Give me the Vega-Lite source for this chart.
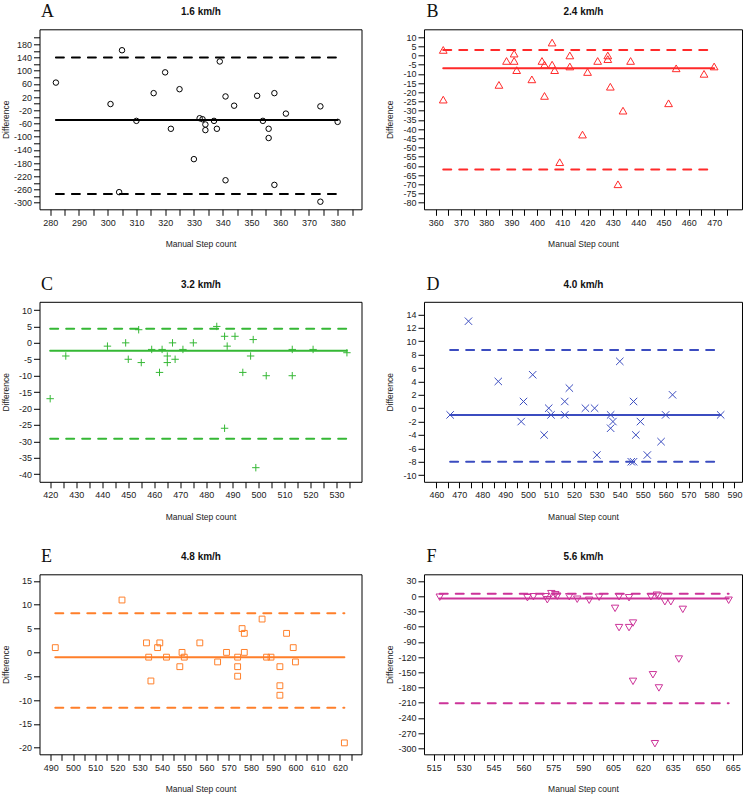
{
  "$schema": "https://vega.github.io/schema/vega-lite/v6.json",
  "background": "white",
  "padding": {"left": 0.5, "top": 1.3, "right": 0, "bottom": 0},
  "config": {
    "font": "Liberation Sans",
    "view": {"stroke": "#000", "strokeWidth": 1},
    "axis": {"domain": false, "grid": false, "tickColor": "#000", "tickSize": 6, "tickWidth": 1, "labelFont": "Liberation Sans", "labelFontSize": 9, "labelColor": "#222", "titleFont": "Liberation Sans", "titleFontSize": 8.5, "titleFontWeight": "normal", "titleColor": "#222", "labelOverlap": false, "labelFlush": false, "labelBound": false},
    "axisX": {"labelPadding": 3, "labelAngle": 0},
    "axisY": {"labelPadding": 2}
  },
  "concat": [
    {
      "width": 322, "height": 180,
      "layer": [
        {
          "data": {"values": [
            {"m":282,"d":64},{"m":301,"d":-1},{"m":305,"d":162},{"m":304,"d":-268},{"m":310,"d":-52},{"m":316,"d":32},{"m":320,"d":95},{"m":322,"d":-76},{"m":325,"d":44},{"m":330,"d":-168},{"m":332,"d":-44},{"m":333,"d":-47},{"m":334,"d":-63},{"m":334,"d":-80},{"m":337,"d":-52},{"m":338,"d":-76},{"m":339,"d":128},{"m":341,"d":22},{"m":341,"d":-232},{"m":344,"d":-6},{"m":352,"d":24},{"m":354,"d":-52},{"m":356,"d":-76},{"m":356,"d":-104},{"m":358,"d":32},{"m":358,"d":-246},{"m":362,"d":-30},{"m":374,"d":-8},{"m":374,"d":-297},{"m":380,"d":-55}
          ]},
          "mark": {"type": "point", "shape": "circle", "filled": false, "size": 30, "strokeWidth": 1, "stroke": "#000", "opacity": 1},
          "encoding": {
            "x": {"field": "m", "type": "quantitative", "scale": {"domain": [276.3, 388.3], "nice": false, "zero": false},
              "axis": {"orient": "bottom", "values": [280,285,290,295,300,305,310,315,320,325,330,335,340,345,350,355,360,365,370,375,380,385], "labelExpr": "datum.value % 10 == 0 ? '' + datum.value : ''", "title": "Manual Step count", "titleX": 161, "titleY": 34.5, "titleBaseline": "middle", "titleAlign": "center"}},
            "y": {"field": "d", "type": "quantitative", "scale": {"domain": [-320, 225.5], "nice": false, "zero": false},
              "axis": {"orient": "left", "values": [-300,-280,-260,-240,-220,-200,-180,-160,-140,-120,-100,-80,-60,-40,-20,0,20,40,60,80,100,120,140,160,180,200], "labelExpr": "(datum.value - 20) % 40 == 0 ? '' + datum.value : ''", "title": "Difference", "titleX": -34.5, "titleY": 90, "titleBaseline": "middle", "titleAlign": "center"}}
          }
        },
        {
          "data": {"values": [
            {"x1":282,"x2":380,"d":-49,"k":"mean"},{"x1":282,"x2":380,"d":140,"k":"loa"},{"x1":282,"x2":380,"d":-274,"k":"loa"}
          ]},
          "mark": {"type": "rule", "strokeWidth": 2, "color": "#000", "strokeCap": "round"},
          "encoding": {
            "x": {"field": "x1", "type": "quantitative", "scale": {"domain": [276.3, 388.3], "nice": false, "zero": false},
              "axis": {"orient": "top", "title": "1.6 km/h", "labels": false, "ticks": false, "domain": false, "titleX": 161, "titleY": -17.5, "titleBaseline": "middle", "titleAlign": "center", "titleFontWeight": "bold", "titleFontSize": 10, "titleColor": "#111"}},
            "x2": {"field": "x2"},
            "y": {"field": "d", "type": "quantitative", "scale": {"domain": [-320, 225.5], "nice": false, "zero": false},
              "axis": {"orient": "right", "title": "A", "labels": false, "ticks": false, "domain": false, "titleX": -321, "titleY": -12.6, "titleAngle": 0, "titleAlign": "left", "titleBaseline": "alphabetic", "titleFont": "Liberation Serif", "titleFontSize": 18, "titleFontWeight": "normal", "titleColor": "#111"}},
            "strokeDash": {"field": "k", "type": "nominal", "scale": {"domain": ["mean", "loa"], "range": [[1, 0], [8, 8]]}, "legend": null}
          }
        }
      ]
    },
    {
      "width": 318, "height": 180,
      "layer": [
        {
          "data": {"values": [
            {"m":363,"d":3},{"m":363,"d":-24},{"m":385,"d":-16},{"m":388,"d":-3},{"m":391,"d":1},{"m":391,"d":-3},{"m":392,"d":-8},{"m":398,"d":-13},{"m":402,"d":-3},{"m":403,"d":-22},{"m":403,"d":-5},{"m":406,"d":7},{"m":406,"d":-5},{"m":407,"d":-8},{"m":409,"d":-58},{"m":413,"d":0},{"m":413,"d":-6},{"m":418,"d":-43},{"m":420,"d":-9},{"m":424,"d":-3},{"m":428,"d":0},{"m":428,"d":-2},{"m":429,"d":-17},{"m":432,"d":-70},{"m":434,"d":-30},{"m":437,"d":-3},{"m":452,"d":-26},{"m":455,"d":-7},{"m":466,"d":-10},{"m":470,"d":-6}
          ]},
          "mark": {"type": "point", "shape": "triangle-up", "filled": false, "size": 60, "strokeWidth": 1, "stroke": "#FF2A2A", "opacity": 1},
          "encoding": {
            "x": {"field": "m", "type": "quantitative", "scale": {"domain": [355.4, 481], "nice": false, "zero": false},
              "axis": {"orient": "bottom", "values": [360,365,370,375,380,385,390,395,400,405,410,415,420,425,430,435,440,445,450,455,460,465,470,475], "labelExpr": "datum.value % 10 == 0 ? '' + datum.value : ''", "title": "Manual Step count", "titleX": 159, "titleY": 34.5, "titleBaseline": "middle", "titleAlign": "center"}},
            "y": {"field": "d", "type": "quantitative", "scale": {"domain": [-83.6, 14.2], "nice": false, "zero": false},
              "axis": {"orient": "left", "values": [-80,-75,-70,-65,-60,-55,-50,-45,-40,-35,-30,-25,-20,-15,-10,-5,0,5,10], "labelExpr": "'' + datum.value", "title": "Difference", "titleX": -34.5, "titleY": 90, "titleBaseline": "middle", "titleAlign": "center"}}
          }
        },
        {
          "data": {"values": [
            {"x1":363,"x2":470,"d":-7,"k":"mean"},{"x1":363,"x2":470,"d":3,"k":"loa"},{"x1":363,"x2":470,"d":-62,"k":"loa"}
          ]},
          "mark": {"type": "rule", "strokeWidth": 2, "color": "#FF2A2A", "strokeCap": "round"},
          "encoding": {
            "x": {"field": "x1", "type": "quantitative", "scale": {"domain": [355.4, 481], "nice": false, "zero": false},
              "axis": {"orient": "top", "title": "2.4 km/h", "labels": false, "ticks": false, "domain": false, "titleX": 159, "titleY": -17.5, "titleBaseline": "middle", "titleAlign": "center", "titleFontWeight": "bold", "titleFontSize": 10, "titleColor": "#111"}},
            "x2": {"field": "x2"},
            "y": {"field": "d", "type": "quantitative", "scale": {"domain": [-83.6, 14.2], "nice": false, "zero": false},
              "axis": {"orient": "right", "title": "B", "labels": false, "ticks": false, "domain": false, "titleX": -316, "titleY": -12.6, "titleAngle": 0, "titleAlign": "left", "titleBaseline": "alphabetic", "titleFont": "Liberation Serif", "titleFontSize": 18, "titleFontWeight": "normal", "titleColor": "#111"}},
            "strokeDash": {"field": "k", "type": "nominal", "scale": {"domain": ["mean", "loa"], "range": [[1, 0], [8, 8]]}, "legend": null}
          }
        }
      ]
    },
    {
      "width": 322, "height": 180,
      "layer": [
        {
          "data": {"values": [
            {"m":420,"d":-17},{"m":426,"d":-4},{"m":442,"d":-1},{"m":449,"d":0},{"m":450,"d":-5},{"m":454,"d":4},{"m":455,"d":-6},{"m":459,"d":-2},{"m":462,"d":-9},{"m":463,"d":-2},{"m":465,"d":-4},{"m":465,"d":-6},{"m":467,"d":0},{"m":468,"d":-5},{"m":471,"d":-2},{"m":475,"d":0},{"m":484,"d":5},{"m":487,"d":2},{"m":487,"d":-26},{"m":488,"d":-1},{"m":491,"d":2},{"m":494,"d":-9},{"m":497,"d":-4},{"m":498,"d":1},{"m":499,"d":-38},{"m":503,"d":-10},{"m":513,"d":-2},{"m":513,"d":-10},{"m":521,"d":-2},{"m":534,"d":-3}
          ]},
          "mark": {"type": "point", "shape": "M-1,0L1,0M0,-1L0,1", "filled": false, "size": 55, "strokeWidth": 1, "stroke": "#35B835", "opacity": 1},
          "encoding": {
            "x": {"field": "m", "type": "quantitative", "scale": {"domain": [415.9, 539.6], "nice": false, "zero": false},
              "axis": {"orient": "bottom", "values": [420,425,430,435,440,445,450,455,460,465,470,475,480,485,490,495,500,505,510,515,520,525,530,535], "labelExpr": "datum.value % 10 == 0 ? '' + datum.value : ''", "title": "Manual Step count", "titleX": 161, "titleY": 34.5, "titleBaseline": "middle", "titleAlign": "center"}},
            "y": {"field": "d", "type": "quantitative", "scale": {"domain": [-42.3, 12.5], "nice": false, "zero": false},
              "axis": {"orient": "left", "values": [-40,-35,-30,-25,-20,-15,-10,-5,0,5,10], "labelExpr": "'' + datum.value", "title": "Difference", "titleX": -34.5, "titleY": 90, "titleBaseline": "middle", "titleAlign": "center"}}
          }
        },
        {
          "data": {"values": [
            {"x1":420,"x2":534,"d":-2.4,"k":"mean"},{"x1":420,"x2":534,"d":4.3,"k":"loa"},{"x1":420,"x2":534,"d":-29.2,"k":"loa"}
          ]},
          "mark": {"type": "rule", "strokeWidth": 2, "color": "#35B835", "strokeCap": "round"},
          "encoding": {
            "x": {"field": "x1", "type": "quantitative", "scale": {"domain": [415.9, 539.6], "nice": false, "zero": false},
              "axis": {"orient": "top", "title": "3.2 km/h", "labels": false, "ticks": false, "domain": false, "titleX": 161, "titleY": -17.5, "titleBaseline": "middle", "titleAlign": "center", "titleFontWeight": "bold", "titleFontSize": 10, "titleColor": "#111"}},
            "x2": {"field": "x2"},
            "y": {"field": "d", "type": "quantitative", "scale": {"domain": [-42.3, 12.5], "nice": false, "zero": false},
              "axis": {"orient": "right", "title": "C", "labels": false, "ticks": false, "domain": false, "titleX": -321, "titleY": -12.6, "titleAngle": 0, "titleAlign": "left", "titleBaseline": "alphabetic", "titleFont": "Liberation Serif", "titleFontSize": 18, "titleFontWeight": "normal", "titleColor": "#111"}},
            "strokeDash": {"field": "k", "type": "nominal", "scale": {"domain": ["mean", "loa"], "range": [[1, 0], [8, 8]]}, "legend": null}
          }
        }
      ]
    },
    {
      "width": 318, "height": 180,
      "layer": [
        {
          "data": {"values": [
            {"m":466,"d":-1},{"m":474,"d":13},{"m":487,"d":4},{"m":497,"d":-2},{"m":498,"d":1},{"m":502,"d":5},{"m":507,"d":-4},{"m":509,"d":0},{"m":510,"d":-1},{"m":516,"d":1},{"m":516,"d":-1},{"m":518,"d":3},{"m":525,"d":0},{"m":529,"d":0},{"m":530,"d":-7},{"m":536,"d":-1},{"m":536,"d":-3},{"m":537,"d":-2},{"m":540,"d":7},{"m":545,"d":-8},{"m":546,"d":1},{"m":546,"d":-8},{"m":547,"d":-4},{"m":549,"d":-2},{"m":552,"d":-7},{"m":558,"d":-5},{"m":560,"d":-1},{"m":563,"d":2},{"m":584,"d":-1}
          ]},
          "mark": {"type": "point", "shape": "M-1,-1L1,1M-1,1L1,-1", "filled": false, "size": 55, "strokeWidth": 1, "stroke": "#3B4CC0", "opacity": 1},
          "encoding": {
            "x": {"field": "m", "type": "quantitative", "scale": {"domain": [454.6, 593.3], "nice": false, "zero": false},
              "axis": {"orient": "bottom", "values": [460,465,470,475,480,485,490,495,500,505,510,515,520,525,530,535,540,545,550,555,560,565,570,575,580,585,590], "labelExpr": "datum.value % 10 == 0 ? '' + datum.value : ''", "title": "Manual Step count", "titleX": 159, "titleY": 34.5, "titleBaseline": "middle", "titleAlign": "center"}},
            "y": {"field": "d", "type": "quantitative", "scale": {"domain": [-11, 15.9], "nice": false, "zero": false},
              "axis": {"orient": "left", "values": [-10,-8,-6,-4,-2,0,2,4,6,8,10,12,14], "labelExpr": "'' + datum.value", "title": "Difference", "titleX": -34.5, "titleY": 90, "titleBaseline": "middle", "titleAlign": "center"}}
          }
        },
        {
          "data": {"values": [
            {"x1":466,"x2":584,"d":-1,"k":"mean"},{"x1":466,"x2":584,"d":8.7,"k":"loa"},{"x1":466,"x2":584,"d":-8,"k":"loa"}
          ]},
          "mark": {"type": "rule", "strokeWidth": 2, "color": "#3B4CC0", "strokeCap": "round"},
          "encoding": {
            "x": {"field": "x1", "type": "quantitative", "scale": {"domain": [454.6, 593.3], "nice": false, "zero": false},
              "axis": {"orient": "top", "title": "4.0 km/h", "labels": false, "ticks": false, "domain": false, "titleX": 159, "titleY": -17.5, "titleBaseline": "middle", "titleAlign": "center", "titleFontWeight": "bold", "titleFontSize": 10, "titleColor": "#111"}},
            "x2": {"field": "x2"},
            "y": {"field": "d", "type": "quantitative", "scale": {"domain": [-11, 15.9], "nice": false, "zero": false},
              "axis": {"orient": "right", "title": "D", "labels": false, "ticks": false, "domain": false, "titleX": -316, "titleY": -12.6, "titleAngle": 0, "titleAlign": "left", "titleBaseline": "alphabetic", "titleFont": "Liberation Serif", "titleFontSize": 18, "titleFontWeight": "normal", "titleColor": "#111"}},
            "strokeDash": {"field": "k", "type": "nominal", "scale": {"domain": ["mean", "loa"], "range": [[1, 0], [8, 8]]}, "legend": null}
          }
        }
      ]
    },
    {
      "width": 322, "height": 180,
      "layer": [
        {
          "data": {"values": [
            {"m":492,"d":1},{"m":522,"d":11},{"m":533,"d":2},{"m":534,"d":-1},{"m":535,"d":-6},{"m":538,"d":1},{"m":539,"d":2},{"m":542,"d":-1},{"m":548,"d":-3},{"m":549,"d":0},{"m":550,"d":-1},{"m":557,"d":2},{"m":565,"d":-2},{"m":569,"d":0},{"m":574,"d":-1},{"m":574,"d":-3},{"m":574,"d":-5},{"m":576,"d":5},{"m":577,"d":4},{"m":577,"d":0},{"m":585,"d":7},{"m":587,"d":-1},{"m":589,"d":-1},{"m":593,"d":-3},{"m":593,"d":-7},{"m":593,"d":-9},{"m":596,"d":4},{"m":599,"d":1},{"m":600,"d":-2},{"m":622,"d":-19}
          ]},
          "mark": {"type": "point", "shape": "square", "filled": false, "size": 34, "strokeWidth": 1, "stroke": "#FF7F2A", "opacity": 1},
          "encoding": {
            "x": {"field": "m", "type": "quantitative", "scale": {"domain": [484.9, 629.7], "nice": false, "zero": false},
              "axis": {"orient": "bottom", "values": [490,495,500,505,510,515,520,525,530,535,540,545,550,555,560,565,570,575,580,585,590,595,600,605,610,615,620,625], "labelExpr": "datum.value % 10 == 0 ? '' + datum.value : ''", "title": "Manual Step count", "titleX": 161, "titleY": 34.5, "titleBaseline": "middle", "titleAlign": "center"}},
            "y": {"field": "d", "type": "quantitative", "scale": {"domain": [-21.4, 16.4], "nice": false, "zero": false},
              "axis": {"orient": "left", "values": [-20,-15,-10,-5,0,5,10,15], "labelExpr": "'' + datum.value", "title": "Difference", "titleX": -34.5, "titleY": 90, "titleBaseline": "middle", "titleAlign": "center"}}
          }
        },
        {
          "data": {"values": [
            {"x1":492,"x2":622,"d":-1,"k":"mean"},{"x1":492,"x2":622,"d":8.2,"k":"loa"},{"x1":492,"x2":622,"d":-11.6,"k":"loa"}
          ]},
          "mark": {"type": "rule", "strokeWidth": 2, "color": "#FF7F2A", "strokeCap": "round"},
          "encoding": {
            "x": {"field": "x1", "type": "quantitative", "scale": {"domain": [484.9, 629.7], "nice": false, "zero": false},
              "axis": {"orient": "top", "title": "4.8 km/h", "labels": false, "ticks": false, "domain": false, "titleX": 161, "titleY": -17.5, "titleBaseline": "middle", "titleAlign": "center", "titleFontWeight": "bold", "titleFontSize": 10, "titleColor": "#111"}},
            "x2": {"field": "x2"},
            "y": {"field": "d", "type": "quantitative", "scale": {"domain": [-21.4, 16.4], "nice": false, "zero": false},
              "axis": {"orient": "right", "title": "E", "labels": false, "ticks": false, "domain": false, "titleX": -321, "titleY": -12.6, "titleAngle": 0, "titleAlign": "left", "titleBaseline": "alphabetic", "titleFont": "Liberation Serif", "titleFontSize": 18, "titleFontWeight": "normal", "titleColor": "#111"}},
            "strokeDash": {"field": "k", "type": "nominal", "scale": {"domain": ["mean", "loa"], "range": [[1, 0], [8, 8]]}, "legend": null}
          }
        }
      ]
    },
    {
      "width": 318, "height": 180,
      "layer": [
        {
          "data": {"values": [
            {"m":518,"d":-2},{"m":562,"d":-3},{"m":565,"d":-1},{"m":571,"d":-1},{"m":572,"d":-7},{"m":574,"d":5},{"m":576,"d":3},{"m":577,"d":0},{"m":583,"d":-1},{"m":587,"d":-6},{"m":593,"d":-8},{"m":598,"d":-2},{"m":606,"d":-24},{"m":608,"d":-1},{"m":608,"d":-62},{"m":613,"d":-3},{"m":613,"d":-62},{"m":615,"d":-53},{"m":615,"d":-168},{"m":624,"d":-1},{"m":625,"d":-155},{"m":626,"d":-291},{"m":627,"d":2},{"m":628,"d":0},{"m":628,"d":-181},{"m":631,"d":-11},{"m":634,"d":-11},{"m":638,"d":-124},{"m":640,"d":-26},{"m":663,"d":-8}
          ]},
          "mark": {"type": "point", "shape": "triangle-down", "filled": false, "size": 55, "strokeWidth": 1, "stroke": "#CC3399", "opacity": 1},
          "encoding": {
            "x": {"field": "m", "type": "quantitative", "scale": {"domain": [510.1, 669.7], "nice": false, "zero": false},
              "axis": {"orient": "bottom", "values": [515,520,525,530,535,540,545,550,555,560,565,570,575,580,585,590,595,600,605,610,615,620,625,630,635,640,645,650,655,660,665], "labelExpr": "(datum.value - 515) % 15 == 0 ? '' + datum.value : ''", "title": "Manual Step count", "titleX": 159, "titleY": 34.5, "titleBaseline": "middle", "titleAlign": "center"}},
            "y": {"field": "d", "type": "quantitative", "scale": {"domain": [-311.9, 43.2], "nice": false, "zero": false},
              "axis": {"orient": "left", "values": [-300,-270,-240,-210,-180,-150,-120,-90,-60,-30,0,30], "labelExpr": "'' + datum.value", "title": "Difference", "titleX": -34.5, "titleY": 90, "titleBaseline": "middle", "titleAlign": "center"}}
          }
        },
        {
          "data": {"values": [
            {"x1":518,"x2":663,"d":-4.3,"k":"mean"},{"x1":518,"x2":663,"d":5,"k":"loa"},{"x1":518,"x2":663,"d":-211,"k":"loa"}
          ]},
          "mark": {"type": "rule", "strokeWidth": 2, "color": "#CC3399", "strokeCap": "round"},
          "encoding": {
            "x": {"field": "x1", "type": "quantitative", "scale": {"domain": [510.1, 669.7], "nice": false, "zero": false},
              "axis": {"orient": "top", "title": "5.6 km/h", "labels": false, "ticks": false, "domain": false, "titleX": 159, "titleY": -17.5, "titleBaseline": "middle", "titleAlign": "center", "titleFontWeight": "bold", "titleFontSize": 10, "titleColor": "#111"}},
            "x2": {"field": "x2"},
            "y": {"field": "d", "type": "quantitative", "scale": {"domain": [-311.9, 43.2], "nice": false, "zero": false},
              "axis": {"orient": "right", "title": "F", "labels": false, "ticks": false, "domain": false, "titleX": -316, "titleY": -12.6, "titleAngle": 0, "titleAlign": "left", "titleBaseline": "alphabetic", "titleFont": "Liberation Serif", "titleFontSize": 18, "titleFontWeight": "normal", "titleColor": "#111"}},
            "strokeDash": {"field": "k", "type": "nominal", "scale": {"domain": ["mean", "loa"], "range": [[1, 0], [8, 8]]}, "legend": null}
          }
        }
      ]
    }
  ],
  "columns": 2,
  "spacing": {"row": 92.5, "column": 62.5},
  "bounds": "flush"
}
